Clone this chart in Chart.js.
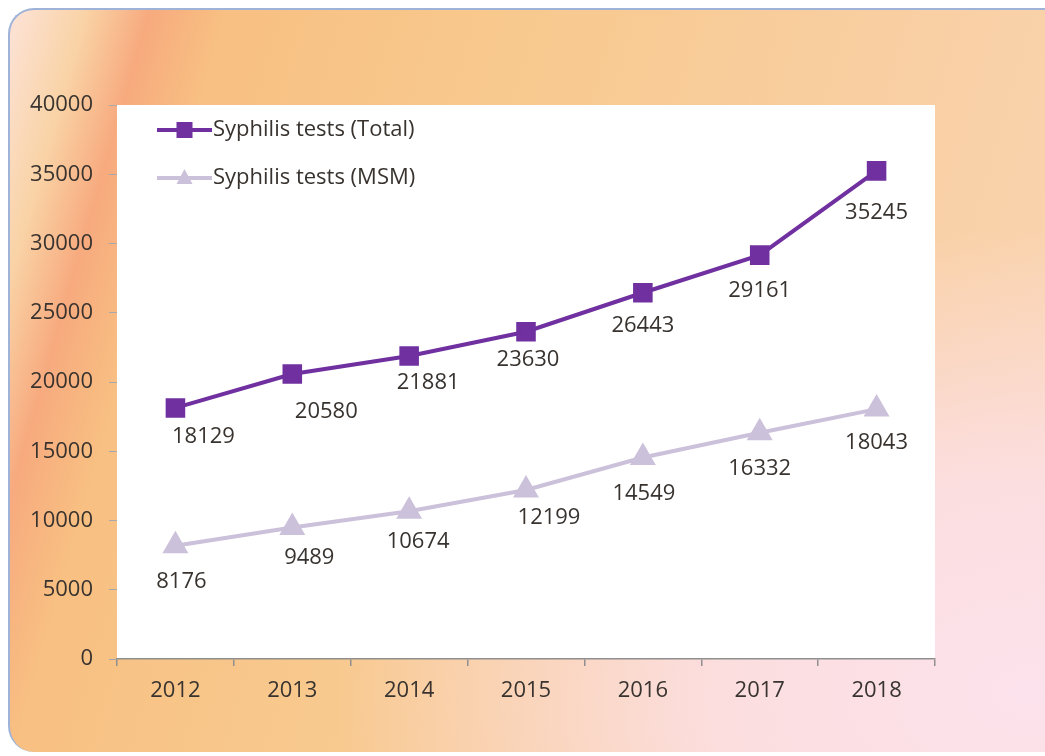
<!DOCTYPE html>
<html>
<head>
<meta charset="utf-8">
<script src="https://cdn.jsdelivr.net/npm/chart.js@4/dist/chart.umd.min.js"></script>
<style>
  html, body { margin: 0; padding: 0; background: #fff; }
  body { width: 1045px; height: 756px; overflow: hidden; position: relative; }
  .panel {
    position: absolute; left: 8px; top: 8px; width: 1060px; height: 742px;
    border: 2px solid #9fb3d8; border-right: none; border-bottom: none;
    border-radius: 26px;
    background:
      radial-gradient(ellipse at 96% 92%, rgba(252,226,236,1) 0%, rgba(252,224,232,0.85) 22%, rgba(252,224,232,0) 48%),
      linear-gradient(106deg, #fde3d8 0%, #f9d3a6 6%, #f7aa7e 11%, #f8c082 17%, #f8c98e 40%, #f9cfa2 70%, #fad6b6 100%);
  }
  #chart { position: absolute; left: 0; top: 0; }
</style>
</head>
<body>
<div class="panel"></div>
<canvas id="chart" width="1045" height="756"></canvas>
<script>
// data
const years = ['2012', '2013', '2014', '2015', '2016', '2017', '2018'];
const totalTests = [18129, 20580, 21881, 23630, 26443, 29161, 35245];
const msmTests = [8176, 9489, 10674, 12199, 14549, 16332, 18043];
const seriesNames = ['Syphilis tests (Total)', 'Syphilis tests (MSM)'];

// label nudges (px from the point), like the hand-placed labels in the original
const totalShift = [[28, 29], [34, 38], [19, 27], [2, 28], [0, 33], [0, 36], [0, 42]];
const msmShift = [[6, 36], [17, 30], [9, 31], [23, 28], [1, 36], [0, 36], [0, 34]];

const FONT = '"Open Sans", Lato, sans-serif';
const TEXT = '#38332f';
const PURPLE = '#7030a0';
const LAVENDER = '#ccc1da';

// white plot area
const plotBg = {
  id: 'plotBg',
  beforeDraw(chart) {
    const a = chart.chartArea, ctx = chart.ctx;
    ctx.save();
    ctx.fillStyle = '#ffffff';
    ctx.fillRect(a.left, a.top, a.right - a.left, a.bottom - a.top);
    ctx.restore();
  }
};

// value labels under each point
const valueLabels = {
  id: 'valueLabels',
  afterDatasetsDraw(chart) {
    const ctx = chart.ctx;
    const shifts = [totalShift, msmShift];
    ctx.save();
    ctx.font = '22px ' + FONT;
    ctx.fillStyle = TEXT;
    ctx.textAlign = 'center';
    ctx.textBaseline = 'middle';
    chart.data.datasets.forEach((ds, i) => {
      chart.getDatasetMeta(i).data.forEach((pt, j) => {
        const s = shifts[i][j];
        ctx.fillText(String(ds.data[j]), pt.x + s[0], pt.y + s[1]);
      });
    });
    ctx.restore();
  }
};

// legend inside the plot, top left
const innerLegend = {
  id: 'innerLegend',
  afterDraw(chart) {
    const ctx = chart.ctx;
    const a = chart.chartArea;
    const x0 = a.left + 40, x1 = a.left + 95;
    ctx.save();
    ctx.font = '22px ' + FONT;
    ctx.textBaseline = 'middle';
    chart.data.datasets.forEach((ds, i) => {
      const y = a.top + 25 + i * 48;
      ctx.strokeStyle = ds.borderColor;
      ctx.lineWidth = 4;
      ctx.beginPath();
      ctx.moveTo(x0, y);
      ctx.lineTo(x1, y);
      ctx.stroke();
      ctx.fillStyle = ds.backgroundColor;
      const cx = (x0 + x1) / 2;
      if (ds.pointStyle === 'rect') {
        ctx.fillRect(cx - 8, y - 8, 16, 16);
      } else {
        ctx.beginPath();
        ctx.moveTo(cx, y - 9);
        ctx.lineTo(cx + 8, y + 6);
        ctx.lineTo(cx - 8, y + 6);
        ctx.closePath();
        ctx.fill();
      }
      ctx.fillStyle = TEXT;
      ctx.fillText(ds.label, x1 + 1, y);
    });
    ctx.restore();
  }
};

new Chart(document.getElementById('chart'), {
  type: 'line',
  data: {
    labels: years,
    datasets: [{
      label: seriesNames[0],
      data: totalTests,
      borderColor: PURPLE,
      backgroundColor: PURPLE,
      borderWidth: 4,
      pointStyle: 'rect',
      pointRadius: 11,
      pointHoverRadius: 11,
      tension: 0
    }, {
      label: seriesNames[1],
      data: msmTests,
      borderColor: LAVENDER,
      backgroundColor: LAVENDER,
      borderWidth: 4,
      pointStyle: 'triangle',
      pointRadius: 11,
      pointHoverRadius: 11,
      tension: 0
    }]
  },
  options: {
    responsive: false,
    animation: false,
    devicePixelRatio: 1,
    layout: { padding: { top: 105, right: 110, bottom: 47, left: 0 } },
    plugins: {
      legend: { display: false },
      tooltip: { enabled: false }
    },
    scales: {
      x: {
        offset: true,
        afterFit: s => { s.height = 50; },
        grid: { offset: true, drawOnChartArea: false, tickLength: 7, color: '#8f8f8f', lineWidth: 1.5 },
        border: { display: true, color: '#8f8f8f', width: 1.5 },
        ticks: { color: TEXT, font: { family: FONT, size: 22 }, padding: 12 }
      },
      y: {
        min: 0,
        max: 40000,
        afterFit: s => { s.width = 117; },
        grid: { drawOnChartArea: false, tickLength: 8, color: '#a8a8a8' },
        border: { display: false },
        ticks: { stepSize: 5000, color: TEXT, font: { family: FONT, size: 22 }, padding: 16, callback: v => String(v) }
      }
    }
  },
  plugins: [plotBg, valueLabels, innerLegend]
});
</script>
</body>
</html>
